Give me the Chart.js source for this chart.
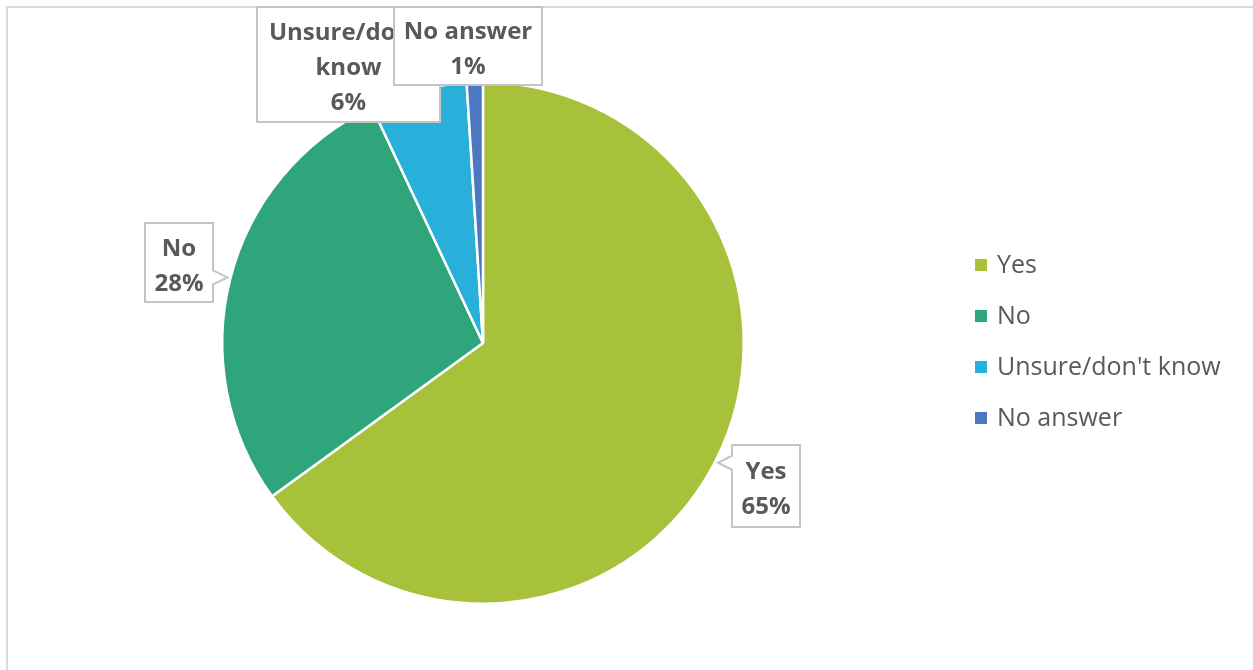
<!DOCTYPE html>
<html>
<head>
<meta charset="utf-8">
<script src="https://cdn.jsdelivr.net/npm/chart.js@4.4.1/dist/chart.umd.min.js"></script>
<style>
  html, body { margin: 0; padding: 0; background: #fff; }
  #wrap { width: 1253px; height: 670px; position: relative; }
</style>
</head>
<body>
<div id="wrap"><canvas id="pieChart"></canvas></div>
<script>
// survey answers
const answerLabels = ['Yes', 'No', "Unsure/don't know", 'No answer'];
const answerValues = [65, 28, 6, 1];
const answerColors = ['#a7c13a', '#2ea57a', '#28b0da', '#4a78c1'];

// callout text lines (percentage is appended from the values)
const calloutNames = [['Yes'], ['No'], ["Unsure/don't", 'know'], ['No answer']];
// callout boxes: left, top, width, height
const calloutBoxes = [
    [732, 445, 68, 82],
    [145, 223, 68, 79],
    [257, 7, 183, 115],
    [394, 7, 148, 78]
];

const TEXT_COLOR = '#595959';
const FONT = '"Open Sans", "Noto Sans", sans-serif';

// outer frame of the chart area
const framePlugin = {
    id: 'frame',
    beforeDraw(chart) {
        const ctx = chart.ctx;
        ctx.save();
        ctx.strokeStyle = '#d9d9d9';
        ctx.lineWidth = 2;
        ctx.strokeRect(7, 7, chart.width + 20, chart.height + 20);
        ctx.restore();
    }
};

// data callouts with pointer towards the slice
const calloutPlugin = {
    id: 'callouts',
    afterDatasetsDraw(chart) {
        const ctx = chart.ctx;
        const meta = chart.getDatasetMeta(0);
        meta.data.forEach((arc, i) => {
            const p = arc.getProps(['x', 'y', 'startAngle', 'endAngle', 'outerRadius'], true);
            const mid = (p.startAngle + p.endAngle) / 2;
            const tx = p.x + Math.cos(mid) * (p.outerRadius + 3);
            const ty = p.y + Math.sin(mid) * (p.outerRadius + 3);
            const [bx, by, bw, bh] = calloutBoxes[i];
            const r = bx + bw, b = by + bh;
            const inside = tx >= bx && tx <= r && ty >= by && ty <= b;
            const py = Math.min(Math.max(ty, by + 8), b - 8);

            ctx.save();
            ctx.beginPath();
            ctx.moveTo(bx, by);
            ctx.lineTo(r, by);
            if (!inside && tx > r) {
                ctx.lineTo(r, py - 7);
                ctx.lineTo(tx, ty);
                ctx.lineTo(r, py + 7);
            }
            ctx.lineTo(r, b);
            ctx.lineTo(bx, b);
            if (!inside && tx < bx) {
                ctx.lineTo(bx, py + 7);
                ctx.lineTo(tx, ty);
                ctx.lineTo(bx, py - 7);
            }
            ctx.closePath();
            ctx.fillStyle = '#ffffff';
            ctx.fill();
            ctx.strokeStyle = '#c4c4c4';
            ctx.lineWidth = 2;
            ctx.stroke();

            const lines = calloutNames[i].concat([answerValues[i] + '%']);
            const lh = 35;
            const cx = bx + bw / 2;
            const cy = by + bh / 2 + 4;
            ctx.font = 'bold 24px ' + FONT;
            ctx.fillStyle = TEXT_COLOR;
            ctx.textAlign = 'center';
            ctx.textBaseline = 'middle';
            lines.forEach((t, k) => {
                ctx.fillText(t, cx, cy + (k - (lines.length - 1) / 2) * lh);
            });
            ctx.restore();
        });
    }
};

// legend on the right
const legendPlugin = {
    id: 'sideLegend',
    afterDraw(chart) {
        const ctx = chart.ctx;
        ctx.save();
        ctx.font = '25px ' + FONT;
        ctx.textBaseline = 'middle';
        ctx.textAlign = 'left';
        chart.data.labels.forEach((label, i) => {
            const y = 265 + i * 51;
            ctx.fillStyle = chart.data.datasets[0].backgroundColor[i];
            ctx.fillRect(975, y - 6, 12, 12);
            ctx.fillStyle = TEXT_COLOR;
            ctx.fillText(label, 997, y + 1);
        });
        ctx.restore();
    }
};

new Chart(document.getElementById('pieChart'), {
    type: 'pie',
    data: {
        labels: answerLabels,
        datasets: [{
            data: answerValues,
            backgroundColor: answerColors,
            borderColor: '#ffffff',
            borderWidth: 2.5
        }]
    },
    options: {
        responsive: true,
        maintainAspectRatio: false,
        animation: false,
        layout: { padding: { left: 221, right: 508, top: 81, bottom: 65 } },
        plugins: {
            legend: { display: false },
            tooltip: { enabled: false }
        }
    },
    plugins: [framePlugin, calloutPlugin, legendPlugin]
});
</script>
</body>
</html>
